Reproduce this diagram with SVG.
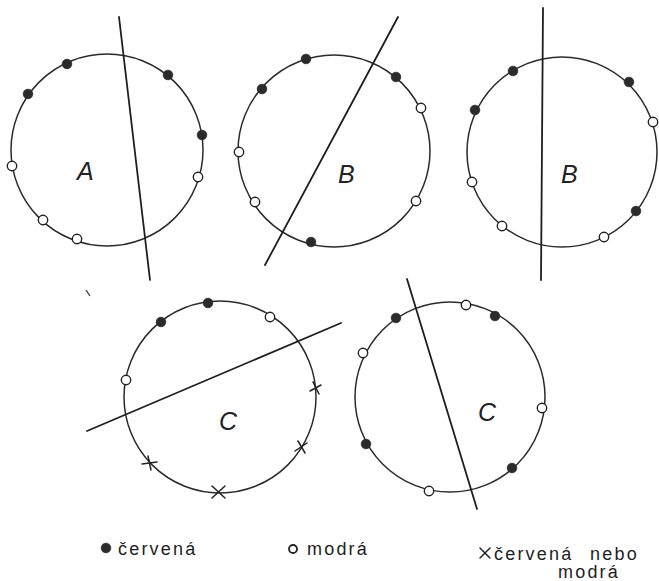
<svg xmlns="http://www.w3.org/2000/svg" width="659" height="581" viewBox="0 0 659 581">
<style>
.ring{fill:none;stroke:#2a2a2a;stroke-width:1.5}
.cut{fill:none;stroke:#1e1e1e;stroke-width:1.8;stroke-linecap:round}
.red{fill:#2b2b2b;stroke:#2b2b2b;stroke-width:0.8}
.blue{fill:#fff;stroke:#222;stroke-width:1.4}
.x{stroke:#222;stroke-width:1.5;stroke-linecap:round}
.lbl{font-family:"Liberation Sans",Arial,sans-serif;font-style:italic;font-size:25px;fill:#222}
.leg{font-family:"Liberation Sans",Arial,sans-serif;font-size:18px;letter-spacing:2.2px;fill:#1e1e1e}
</style>
<rect width="659" height="581" fill="#fff"/>

<g id="circleA">
<circle class="ring" cx="107" cy="150" r="96"/>
<circle class="red" cx="67" cy="64" r="4.8"/>
<circle class="red" cx="28" cy="94" r="4.8"/>
<circle class="red" cx="168" cy="75" r="4.8"/>
<circle class="red" cx="202" cy="135" r="4.8"/>
<circle class="blue" cx="12" cy="166" r="4.7"/>
<circle class="blue" cx="198" cy="177" r="4.7"/>
<circle class="blue" cx="43" cy="220" r="4.7"/>
<circle class="blue" cx="77" cy="239" r="4.7"/>
<text class="lbl" x="77" y="180">A</text>
</g>

<g id="circleB1">
<circle class="ring" cx="334" cy="151" r="96"/>
<circle class="red" cx="306" cy="59" r="4.8"/>
<circle class="red" cx="262" cy="89" r="4.8"/>
<circle class="red" cx="396" cy="77" r="4.8"/>
<circle class="red" cx="311" cy="242" r="4.8"/>
<circle class="blue" cx="239" cy="152" r="4.7"/>
<circle class="blue" cx="255" cy="202" r="4.7"/>
<circle class="blue" cx="421" cy="108" r="4.7"/>
<circle class="blue" cx="416" cy="201" r="4.7"/>
<text class="lbl" x="338" y="183">B</text>
</g>

<g id="circleB2">
<circle class="ring" cx="562" cy="152" r="95"/>
<circle class="red" cx="513" cy="71" r="4.8"/>
<circle class="red" cx="475" cy="110" r="4.8"/>
<circle class="red" cx="629" cy="82" r="4.8"/>
<circle class="red" cx="636" cy="211" r="4.8"/>
<circle class="blue" cx="653" cy="122" r="4.7"/>
<circle class="blue" cx="472" cy="182" r="4.7"/>
<circle class="blue" cx="502" cy="226" r="4.7"/>
<circle class="blue" cx="604" cy="237" r="4.7"/>
<text class="lbl" x="561" y="183">B</text>
</g>

<g id="circleC1">
<circle class="ring" cx="220" cy="397" r="96"/>
<circle class="red" cx="208" cy="303" r="4.8"/>
<circle class="red" cx="161" cy="322" r="4.8"/>
<circle class="blue" cx="270" cy="317" r="4.7"/>
<circle class="blue" cx="126" cy="380" r="4.7"/>
<g class="x">
<line x1="310" y1="391" x2="321" y2="385"/><line x1="313" y1="382" x2="319" y2="394"/>
</g>
<g class="x">
<line x1="295" y1="451" x2="307" y2="443"/><line x1="298" y1="441" x2="305" y2="453"/>
</g>
<g class="x">
<line x1="142" y1="464" x2="157" y2="462"/><line x1="148" y1="456" x2="151" y2="470"/>
</g>
<g class="x">
<line x1="212" y1="486" x2="225" y2="498"/><line x1="225" y1="486" x2="212" y2="498"/>
</g>
<text class="lbl" x="219" y="430">C</text>
</g>

<g id="circleC2">
<circle class="ring" cx="450" cy="397" r="95"/>
<circle class="red" cx="396" cy="318" r="4.8"/>
<circle class="red" cx="495" cy="316" r="4.8"/>
<circle class="red" cx="366" cy="444" r="4.8"/>
<circle class="red" cx="512" cy="468" r="4.8"/>
<circle class="blue" cx="466" cy="305" r="4.7"/>
<circle class="blue" cx="363" cy="353" r="4.7"/>
<circle class="blue" cx="542" cy="408" r="4.7"/>
<circle class="blue" cx="429" cy="491" r="4.7"/>
<text class="lbl" x="478" y="421">C</text>
</g>

<g id="connectors">
<line class="cut" x1="119" y1="17" x2="150" y2="280"/>
<line class="cut" x1="398" y1="17" x2="265" y2="265"/>
<line class="cut" x1="543" y1="8" x2="541" y2="280"/>
<line class="cut" x1="87" y1="431" x2="341" y2="323"/>
<line class="cut" x1="407" y1="279" x2="477" y2="509"/>
</g>

<line x1="86" y1="290" x2="90" y2="296" stroke="#333" stroke-width="1.3"/>

<g id="legend">
<circle class="red" cx="106" cy="548" r="4.8"/>
<text class="leg" x="118" y="555">červená</text>
<circle cx="293" cy="549" r="4" fill="none" stroke="#222" stroke-width="1.8"/>
<text class="leg" x="307" y="555">modrá</text>
<g class="x">
<line x1="480" y1="548" x2="490" y2="558"/><line x1="490" y1="548" x2="480" y2="558"/>
</g>
<text class="leg" x="494" y="560">červená<tspan x="590">nebo</tspan></text>
<text class="leg" x="558" y="578">modrá</text>
</g>
</svg>
